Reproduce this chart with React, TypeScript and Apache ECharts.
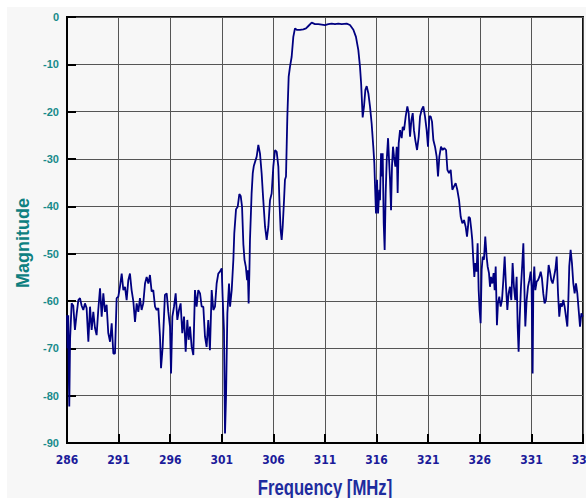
import React, { useEffect, useRef } from "react";
import * as echarts from "echarts";

// Frequency ticks (MHz) and magnitude ticks (dB)
const freqTicks = [286, 291, 296, 301, 306, 311, 316, 321, 326, 331, 336];
const magTicks = [0, -10, -20, -30, -40, -50, -60, -70, -80, -90];
const xTitle = "Frequency [MHz]";
const yTitle = "Magnitude";

// [frequency MHz, magnitude dB]
const lowerStopband: number[][] = [
  [286.00,-63.0],[286.06,-70.0],[286.12,-63.0],[286.19,-78.0],[286.22,-82.3],[286.30,-68.0],[286.45,-60.5],[286.61,-61.0],[286.77,-66.1],[286.94,-62.6],
  [287.10,-59.8],[287.26,-59.4],[287.42,-61.0],[287.58,-61.9],[287.74,-60.5],[287.90,-61.5],[288.07,-68.6],[288.23,-61.2],[288.39,-66.1],[288.55,-62.3],
  [288.71,-65.7],[288.87,-67.2],[289.03,-61.9],[289.20,-57.3],[289.36,-63.3],[289.52,-58.4],[289.68,-62.3],[289.84,-60.8],[290.00,-66.8],[290.17,-68.6],
  [290.33,-64.7],[290.49,-71.1],[290.65,-71.1],[290.81,-59.4],[290.97,-59.1],[291.13,-57.0],[291.30,-54.2],[291.46,-57.7],[291.62,-57.0],[291.78,-59.8],
  [291.94,-55.6],[292.10,-54.2],[292.26,-57.7],[292.43,-60.1],[292.59,-64.4],[292.75,-60.5],[292.91,-62.3],[293.07,-59.4],[293.23,-61.9],[293.39,-60.5],
  [293.56,-56.3],[293.72,-54.9],[293.88,-56.3],[294.04,-54.5],[294.20,-58.0],[294.36,-57.7],[294.53,-61.2],[294.69,-61.9],[294.85,-61.5],[295.01,-67.5],
  [295.11,-74.2],[295.27,-69.7],[295.49,-58.7],[295.66,-58.4],[295.82,-62.3],[295.98,-65.4],[296.08,-75.3],[296.21,-63.3],[296.37,-61.2],[296.53,-58.4],
  [296.69,-64.0],[296.85,-61.9],[297.01,-60.5],[297.17,-66.8],[297.34,-63.3],[297.50,-70.7],[297.66,-64.0],[297.79,-68.2],[297.92,-65.4],[298.08,-69.7],
  [298.24,-71.4],[298.40,-57.7],[298.56,-61.2],[298.72,-57.7],[298.89,-58.4],[299.05,-61.2],[299.21,-61.2],[299.37,-67.5],[299.53,-69.7],[299.69,-64.0],
  [299.85,-70.4],[300.02,-57.7],[300.18,-61.9],[300.34,-61.2],[300.50,-56.3],[300.66,-54.2],[300.82,-53.8],[300.99,-53.1]
];

const lowerSkirt: number[][] = [
  [301.08,-59.1],[301.21,-66.1],[301.31,-88.0],[301.41,-80.2],[301.54,-62.6],[301.70,-56.3],[301.80,-61.2],[301.96,-57.7],[302.12,-51.3],[302.21,-45.7],
  [302.38,-40.6],[302.54,-40.1],[302.70,-37.4],[302.83,-37.8],[302.96,-40.0],[303.09,-48.0],[303.20,-51.3],[303.33,-52.8],[303.45,-55.6],[303.52,-53.5],
  [303.60,-60.5],[303.67,-54.2],[303.73,-47.1],[303.89,-37.2],[304.00,-33.0],[304.10,-31.5],[304.38,-29.5],[304.54,-27.0],[304.70,-28.8],[304.86,-33.0],
  [305.02,-38.7],[305.19,-44.3],[305.35,-47.1],[305.51,-44.3],[305.67,-38.7],[305.83,-37.3],[305.99,-31.6],[306.16,-28.1],[306.32,-28.5],[306.48,-31.6],
  [306.58,-38.7],[306.70,-45.0],[306.80,-47.1],[306.90,-44.3],[307.03,-38.7],[307.12,-34.4],[307.22,-33.7],[307.35,-21.1],[307.48,-12.6],[307.61,-10.5],
  [307.77,-8.4],[307.93,-4.2]
];

const passband: number[][] = [
  [308.09,-2.4],[308.26,-2.7],[308.58,-2.7],[308.90,-2.6],[309.16,-2.4],[309.39,-1.9],[309.71,-1.2],[310.03,-1.5],[310.35,-1.5],[310.68,-1.6],
  [311.00,-1.7],[311.32,-1.5],[311.65,-1.4],[311.97,-1.5],[312.29,-1.4],[312.62,-1.5],[313.10,-1.4],[313.42,-1.7],[313.75,-2.7],[314.00,-4.2]
];

const upperSkirt: number[][] = [
  [314.23,-7.0],[314.39,-10.5],[314.50,-14.0],[314.65,-21.2],[314.78,-18.9],[314.91,-15.4],[315.04,-14.6],[315.20,-16.1],[315.36,-18.9],[315.52,-22.5],
  [315.68,-27.4],[315.78,-30.9],[315.85,-35.8],[315.94,-41.5],[316.04,-34.4],[316.14,-41.5],[316.27,-36.5],[316.33,-38.7],[316.43,-28.8],[316.52,-33.7],
  [316.59,-28.8],[316.69,-43.6],[316.78,-49.2],[316.88,-37.2],[316.98,-30.2],[317.11,-25.6],[317.20,-29.9],[317.30,-34.4],[317.40,-40.8],[317.49,-31.6],
  [317.59,-27.4],[317.69,-29.5],[317.82,-31.6],[317.95,-27.4],[318.04,-37.2],[318.14,-26.7],[318.27,-23.9],[318.43,-25.6],[318.53,-23.2],[318.66,-23.9],
  [318.82,-21.0],[318.98,-18.9],[319.11,-20.3],[319.24,-25.3],[319.37,-21.8],[319.50,-20.3],[319.62,-23.9],[319.75,-26.0],[319.92,-28.1],[320.08,-25.3],
  [320.21,-21.0],[320.37,-19.6],[320.53,-18.9],[320.69,-21.0],[320.85,-23.9],[320.98,-27.4],[321.11,-21.0],[321.24,-21.0],[321.37,-22.1],[321.50,-26.0],
  [321.66,-27.4],[321.82,-29.5],[321.95,-33.7],[322.08,-29.5],[322.24,-27.4],[322.40,-28.1],[322.56,-27.7],[322.73,-28.1],[322.86,-32.3],[323.02,-33.0],
  [323.18,-32.3],[323.34,-36.5],[323.50,-35.8],[323.66,-35.1],[323.82,-36.5],[323.99,-38.7],[324.15,-42.2],[324.31,-43.6],[324.47,-42.9],[324.63,-44.3],
  [324.76,-46.4],[324.86,-44.3]
];

const upperStopband: number[][] = [
  [324.92,-42.2],[325.05,-42.5],[325.18,-45.0],[325.27,-47.1],[325.37,-51.3],[325.47,-54.9],[325.56,-52.0],[325.69,-53.8],[325.79,-47.8],[325.89,-57.7],
  [325.98,-61.9],[326.08,-64.7],[326.18,-53.4],[326.28,-50.6],[326.40,-51.3],[326.53,-46.4],[326.66,-50.6],[326.76,-52.7],[326.89,-54.1],[326.99,-57.0],
  [327.08,-54.9],[327.21,-56.3],[327.34,-54.1],[327.44,-57.7],[327.54,-52.7],[327.66,-65.1],[327.76,-60.5],[327.89,-59.1],[328.02,-61.2],[328.15,-59.8],
  [328.28,-55.6],[328.41,-50.6],[328.54,-57.0],[328.67,-61.9],[328.79,-58.4],[328.92,-57.0],[329.05,-59.8],[329.18,-52.0],[329.31,-57.0],[329.44,-59.8],
  [329.57,-54.9],[329.67,-65.4],[329.76,-70.7],[329.86,-64.0],[329.99,-57.0],[330.12,-52.0],[330.22,-47.8],[330.31,-56.3],[330.41,-65.4],[330.54,-59.8],
  [330.67,-57.0],[330.80,-55.6],[330.93,-53.8],[331.02,-57.0],[331.12,-75.3],[331.19,-56.3],[331.28,-52.7],[331.38,-57.7],[331.51,-55.9],[331.64,-55.6],
  [331.77,-54.9],[331.90,-53.8],[332.02,-55.2],[332.15,-58.4],[332.28,-60.5],[332.41,-59.8],[332.54,-56.3],[332.67,-52.4],[332.80,-53.8],[332.93,-55.6],
  [333.06,-56.3],[333.19,-54.9],[333.32,-53.4],[333.45,-50.6],[333.58,-58.4],[333.70,-63.3],[333.83,-60.5],[333.96,-61.2],[334.09,-59.8],[334.22,-61.2],
  [334.35,-63.3],[334.48,-65.4],[334.58,-59.8],[334.67,-52.7],[334.80,-49.2],[334.93,-52.0],[335.06,-56.3],[335.19,-58.4],[335.32,-56.3],[335.45,-58.4],
  [335.58,-61.9],[335.71,-65.4],[335.84,-62.6],[335.97,-63.3]
];

const SANS = "'Liberation Sans', Arial, sans-serif";

export default function App() {
  const ref = useRef<HTMLDivElement>(null);

  useEffect(() => {
    if (!ref.current) return;
    const chart = echarts.init(ref.current, undefined, { renderer: "svg" });
    const data = [...lowerStopband, ...lowerSkirt, ...passband, ...upperSkirt, ...upperStopband];
    const xMin = freqTicks[0];
    const xMax = freqTicks[freqTicks.length - 1];
    const yMin = magTicks[magTicks.length - 1];
    const yMax = magTicks[0];

    chart.setOption({
      animation: false,
      backgroundColor: "#ffffff",
      graphic: [
        {
          type: "rect",
          z: -100,
          silent: true,
          shape: { x: 7, y: 7, width: 579, height: 491 },
          style: { fill: "#f7f7f7" },
        },
        {
          type: "text",
          x: 325,
          y: 487,
          scaleX: 0.76,
          silent: true,
          style: {
            text: xTitle,
            fill: "#1e2c9e",
            font: "bold 22px " + SANS,
            align: "center",
            verticalAlign: "middle",
          },
        },
        {
          type: "text",
          x: 23,
          y: 243,
          rotation: Math.PI / 2,
          silent: true,
          style: {
            text: yTitle,
            fill: "#0e8080",
            font: "bold 18px " + SANS,
            align: "center",
            verticalAlign: "middle",
          },
        },
      ],
      grid: {
        left: 67,
        right: 3,
        top: 17,
        bottom: 55,
        outerBoundsMode: "none",
        containLabel: false,
        show: true,
        borderColor: "#111",
        borderWidth: 2,
        backgroundColor: "transparent",
      },
      xAxis: {
        type: "value",
        min: xMin,
        max: xMax,
        interval: 5,
        axisLine: { show: true, onZero: false, lineStyle: { color: "#000", width: 2 } },
        axisTick: { show: true, inside: true, length: 9, lineStyle: { color: "#000", width: 2 } },
        axisLabel: {
          color: "#1b1b9a",
          fontWeight: "bold",
          fontSize: 12,
          fontFamily: "'DejaVu Sans Condensed', " + SANS,
          margin: 11,
          showMaxLabel: true,
          showMinLabel: true,
          hideOverlap: false,
        },
        splitLine: { show: true, lineStyle: { color: "#555", width: 1 } },
      },
      yAxis: {
        type: "value",
        min: yMin,
        max: yMax,
        interval: 10,
        axisLine: { show: true, onZero: false, lineStyle: { color: "#000", width: 2 } },
        axisTick: { show: true, inside: true, length: 9, lineStyle: { color: "#000", width: 2 } },
        axisLabel: {
          color: "#178a8a",
          fontWeight: "bold",
          fontSize: 11,
          fontFamily: SANS,
          margin: 8,
        },
        splitLine: { show: true, lineStyle: { color: "#555", width: 1 } },
      },
      series: [
        {
          type: "line",
          data,
          showSymbol: false,
          symbol: "none",
          clip: true,
          lineStyle: { color: "#000080", width: 1.8 },
        },
      ],
    });
    return () => chart.dispose();
  }, []);

  return (
    <div
      ref={ref}
      style={{ position: "absolute", left: 0, top: 0, width: 586, height: 498 }}
    />
  );
}
